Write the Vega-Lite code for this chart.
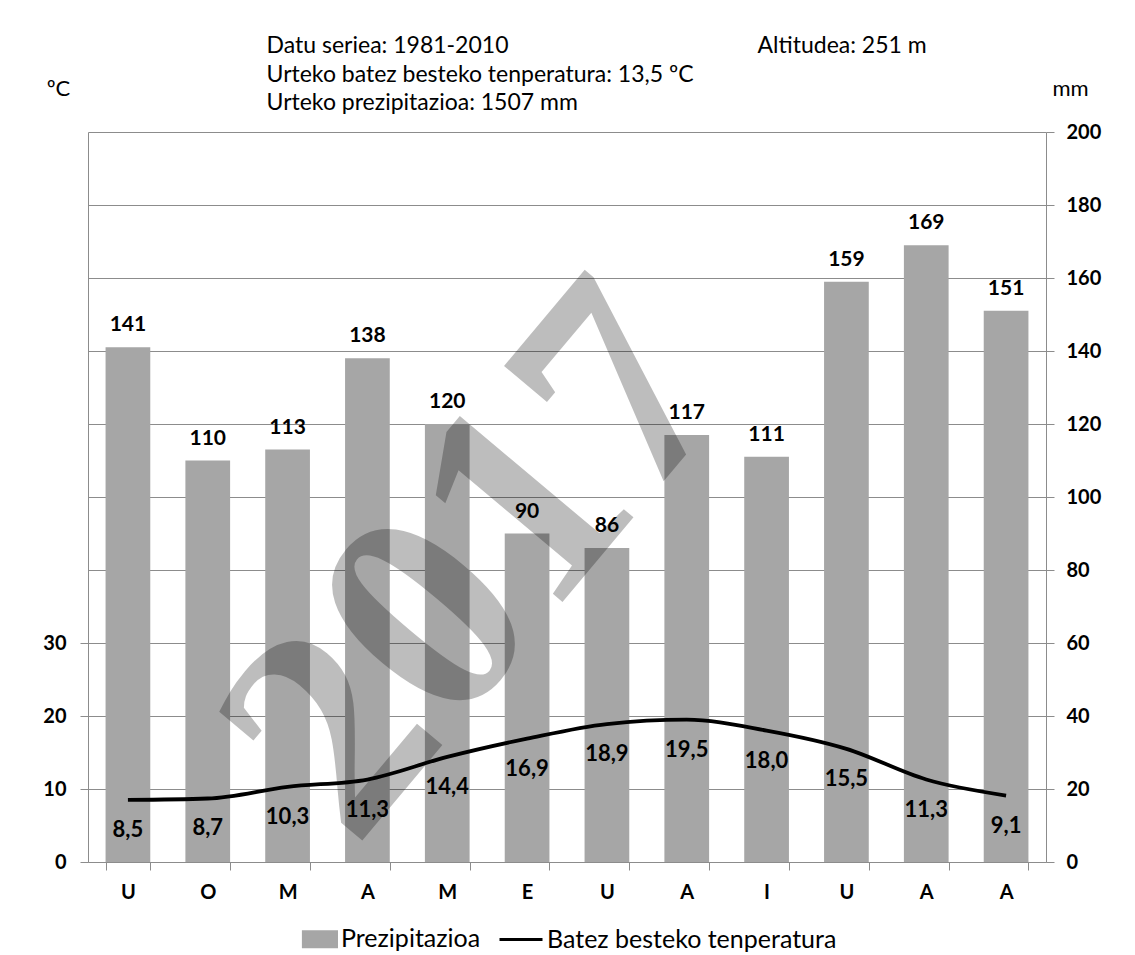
{
  "$schema": "https://vega.github.io/schema/vega-lite/v6.json",
  "width": 958,
  "height": 730,
  "autosize": {"type": "none"},
  "padding": {"left": 88, "top": 132, "right": 89, "bottom": 93},
  "background": "white",
  "config": {
    "locale": {"number": {"decimal": ",", "thousands": ".", "grouping": [3], "currency": ["", " €"]}},
    "font": "Lato",
    "view": {"stroke": null},
    "axis": {
      "labelFont": "Lato", "labelFontSize": 20, "labelFontWeight": "bold", "labelColor": "black",
      "domainColor": "#8c8c8c", "tickColor": "#8c8c8c", "gridColor": "#8c8c8c", "tickSize": 8,
      "titleFont": "Lato", "titleFontWeight": "normal", "titleColor": "black", "titleFontSize": 22
    }
  },
  "data": {"values": [
    {"m": 1, "p": 141, "t": 8.5},
    {"m": 2, "p": 110, "t": 8.7},
    {"m": 3, "p": 113, "t": 10.3},
    {"m": 4, "p": 138, "t": 11.3},
    {"m": 5, "p": 120, "t": 14.4},
    {"m": 6, "p": 90, "t": 16.9},
    {"m": 7, "p": 86, "t": 18.9},
    {"m": 8, "p": 117, "t": 19.5},
    {"m": 9, "p": 111, "t": 18.0},
    {"m": 10, "p": 159, "t": 15.5},
    {"m": 11, "p": 169, "t": 11.3},
    {"m": 12, "p": 151, "t": 9.1}
  ]},
  "encoding": {
    "x": {
      "field": "m", "type": "ordinal",
      "scale": {"paddingInner": 0.44, "paddingOuter": 0.22},
      "axis": {
        "title": null, "labelAngle": 0, "tickBand": "extent", "labelPadding": 12,
        "domain": true,
        "labelExpr": "['U','O','M','A','M','E','U','A','I','U','A','A'][datum.value-1]"
      }
    }
  },
  "layer": [
    {
      "encoding": {
        "y": {
          "field": "p", "type": "quantitative",
          "scale": {"domain": [0, 200], "nice": false},
          "axis": {
            "orient": "right", "values": [0, 20, 40, 60, 80, 100, 120, 140, 160, 180, 200],
            "grid": true, "title": "mm", "titleAngle": 0, "titleX": 24, "titleY": -44,
            "titleAlign": "center", "titleBaseline": "middle", "labelPadding": 12
          }
        }
      },
      "layer": [
        {
          "mark": {"type": "bar", "color": "#a6a6a6"},
          "encoding": {
            "color": {
              "datum": "Prezipitazioa",
              "scale": {"domain": ["Prezipitazioa", "Batez besteko tenperatura"], "range": ["#a6a6a6", "black"]},
              "legend": {
                "title": null, "orient": "none", "legendX": 204, "legendY": 784,
                "direction": "horizontal", "columns": 2,
                "symbolSize": 1849, "labelFontSize": 25, "labelFont": "Lato", "labelColor": "black",
                "labelOffset": 3, "columnPadding": 12, "labelLimit": 0,
                "encode": {
                  "symbols": {
                    "update": {
                      "shape": {"signal": "datum.value === 'Prezipitazioa' ? 'M-0.54,-0.35H1V0.35H-0.54Z' : 'M-1,0H1'"},
                      "fill": {"signal": "datum.value === 'Prezipitazioa' ? '#a6a6a6' : 'transparent'"},
                      "stroke": {"signal": "datum.value === 'Prezipitazioa' ? 'transparent' : 'black'"},
                      "strokeWidth": {"value": 3},
                      "opacity": {"value": 1}
                    }
                  }
                }
              }
            }
          }
        },
        {
          "mark": {"type": "text", "dy": -22, "baseline": "middle", "fontSize": 21, "fontWeight": "bold", "color": "black"},
          "encoding": {"text": {"field": "p", "type": "quantitative"}}
        },
        {
          "transform": [{"filter": "datum.m === 1"}],
          "mark": {"type": "text", "text": "Datu seriea: 1981-2010", "align": "left", "baseline": "middle", "dx": -21, "fontSize": 23, "fontWeight": "normal", "color": "black"},
          "encoding": {"x": {"datum": 3, "type": "ordinal"}, "y": {"datum": 223.6, "type": "quantitative"}}
        },
        {
          "transform": [{"filter": "datum.m === 1"}],
          "mark": {"type": "text", "text": "Urteko batez besteko tenperatura: 13,5 ºC", "align": "left", "baseline": "middle", "dx": -21, "fontSize": 23, "fontWeight": "normal", "color": "black"},
          "encoding": {"x": {"datum": 3, "type": "ordinal"}, "y": {"datum": 215.6, "type": "quantitative"}}
        },
        {
          "transform": [{"filter": "datum.m === 1"}],
          "mark": {"type": "text", "text": "Urteko prezipitazioa: 1507 mm", "align": "left", "baseline": "middle", "dx": -21, "fontSize": 23, "fontWeight": "normal", "color": "black"},
          "encoding": {"x": {"datum": 3, "type": "ordinal"}, "y": {"datum": 207.9, "type": "quantitative"}}
        },
        {
          "transform": [{"filter": "datum.m === 1"}],
          "mark": {"type": "text", "text": "Altitudea: 251 m", "align": "left", "baseline": "middle", "dx": -9, "fontSize": 23, "fontWeight": "normal", "color": "black"},
          "encoding": {"x": {"datum": 9, "type": "ordinal"}, "y": {"datum": 223.6, "type": "quantitative"}}
        },
        {
          "transform": [{"filter": "datum.m === 1"}],
          "mark": {"type": "text", "text": "2017", "font": "Liberation Serif", "fontWeight": "bold", "fontSize": 300, "angle": -50, "align": "center", "baseline": "middle", "dx": 48, "fill": "black", "fillOpacity": 0.26},
          "encoding": {"x": {"datum": 5, "type": "ordinal"}, "y": {"datum": 72, "type": "quantitative"}}
        }
      ]
    },
    {
      "encoding": {
        "y": {
          "field": "t", "type": "quantitative",
          "scale": {"domain": [0, 100], "nice": false},
          "axis": {
            "orient": "left", "values": [0, 10, 20, 30], "grid": false,
            "title": "ºC", "titleAngle": 0, "titleX": -30, "titleY": -44,
            "titleAlign": "center", "titleBaseline": "middle", "labelPadding": 14
          }
        }
      },
      "layer": [
        {
          "mark": {"type": "line", "interpolate": "monotone", "strokeWidth": 3.8},
          "encoding": {"color": {"datum": "Batez besteko tenperatura"}}
        },
        {
          "mark": {"type": "text", "dy": 30, "baseline": "middle", "fontSize": 22, "fontWeight": "bold", "color": "black"},
          "encoding": {"text": {"field": "t", "type": "quantitative", "format": ".1f"}}
        }
      ]
    }
  ],
  "resolve": {"scale": {"y": "independent"}}
}
